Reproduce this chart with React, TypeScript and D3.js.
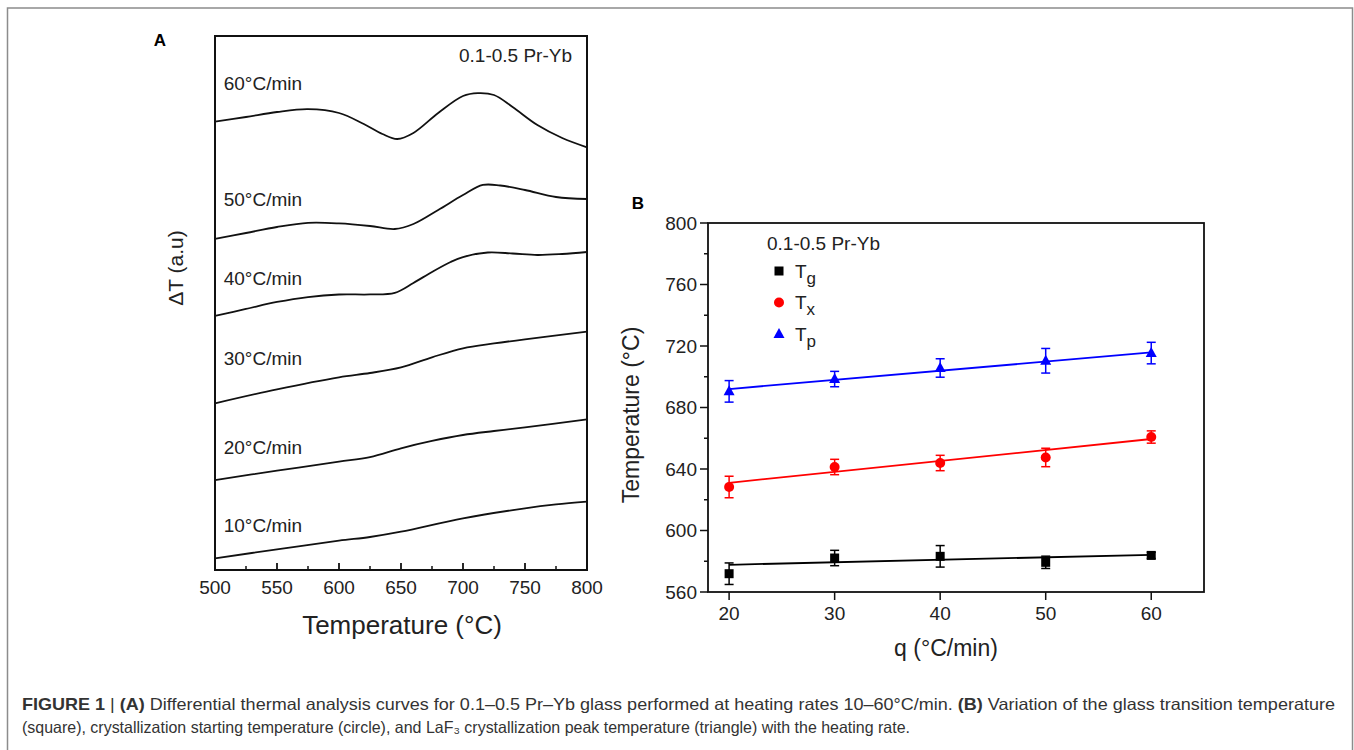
import React from "react";
import * as d3 from "d3";

// ---- panel A: DTA curves (temperature in °C, ΔT in arbitrary units) ----
const rates = ["10°C/min", "20°C/min", "30°C/min", "40°C/min", "50°C/min", "60°C/min"];
const labelDT = [8.4, 23.0, 39.7, 54.7, 69.5, 91.2];

const temps10 = [500, 550, 600, 625, 650, 700, 750, 775, 800];
const dt10 = [2.19, 3.86, 5.49, 6.18, 7.17, 9.68, 11.55, 12.27, 12.79];
const temps20 = [500, 550, 600, 625, 650, 675, 700, 725, 750, 800];
const dt20 = [16.85, 18.6, 20.28, 21.16, 22.79, 24.16, 25.28, 26.03, 26.72, 28.22];
const temps30 = [500, 550, 600, 625, 650, 675, 700, 725, 750, 800];
const dt30 = [31.22, 33.84, 36.09, 36.89, 37.96, 39.83, 41.52, 42.42, 43.2, 44.63];
const temps40 = [500, 525, 550, 575, 600, 625, 645, 660, 675, 690, 700, 720, 740, 760, 780, 800];
const dt40 = [47.57, 48.88, 50.19, 51.12, 51.59, 51.6, 51.9, 53.75, 55.81, 57.68, 58.61, 59.46, 59.27, 58.99, 59.18, 59.55];
const temps50 = [500, 525, 550, 575, 600, 625, 645, 660, 680, 700, 716, 730, 750, 775, 800];
const dt50 = [61.99, 63.11, 64.23, 65.0, 64.9, 64.42, 63.86, 64.79, 67.42, 70.22, 72.1, 72.0, 71.16, 69.85, 69.48];
const temps60 = [500, 525, 550, 575, 600, 620, 635, 647, 660, 680, 700, 712, 725, 740, 760, 780, 800];
const dt60 = [83.95, 84.83, 85.77, 86.3, 85.58, 83.52, 81.65, 80.71, 81.84, 85.58, 88.76, 89.3, 88.95, 86.7, 83.33, 80.9, 79.16];

const tempTicks = [500, 550, 600, 650, 700, 750, 800];

// ---- panel B: characteristic temperatures vs heating rate ----
const q = [20, 30, 40, 50, 60];
const tg = [571.9, 582.1, 583.2, 579.3, 583.8];
const tgErr = [7, 5, 7, 4, 2];
const tx = [628.3, 641.3, 643.9, 647.5, 660.8];
const txErr = [7, 5, 5, 6, 4];
const tp = [690.5, 698.5, 705.7, 710.4, 715.4];
const tpErr = [7, 5, 6, 8, 7];
// linear fit end points (at q = 20 and q = 60)
const tgFit = [577.7, 584.2];
const txFit = [631, 659.5];
const tpFit = [692, 715.8];

const qTicks = [20, 30, 40, 50, 60];
const tTicks = [560, 600, 640, 680, 720, 760, 800];

const font = "'Liberation Sans', Arial, Helvetica, sans-serif";

const App = () => {
  // panel A
  const xA = d3.scaleLinear().domain([500, 800]).range([215, 587]);
  const yA = d3.scaleLinear().domain([0, 100]).range([570, 36]);
  const lineA = d3
    .line<[number, number]>()
    .x((d) => xA(d[0]))
    .y((d) => yA(d[1]))
    .curve(d3.curveCatmullRom.alpha(0.5));
  const curves = [
    [temps10, dt10],
    [temps20, dt20],
    [temps30, dt30],
    [temps40, dt40],
    [temps50, dt50],
    [temps60, dt60],
  ].map(([t, v]) => t.map((d, i) => [d, v[i]] as [number, number]));
  const minorA = d3.range(525, 800, 50);

  // panel B
  const xB = d3.scaleLinear().domain([18, 65]).range([708, 1204]);
  const yB = d3.scaleLinear().domain([560, 800]).range([592, 223]);
  const minorB = d3.range(580, 800, 40);

  const series = [
    { vals: tg, err: tgErr, fit: tgFit, color: "#000000", shape: "square" },
    { vals: tx, err: txErr, fit: txFit, color: "#ff0000", shape: "circle" },
    { vals: tp, err: tpErr, fit: tpFit, color: "#0000ff", shape: "triangle" },
  ];

  const marker = (shape: string, cx: number, cy: number, color: string, key?: any) => {
    if (shape === "square")
      return <rect key={key} x={cx - 4.5} y={cy - 4.5} width={9} height={9} fill={color} />;
    if (shape === "circle") return <circle key={key} cx={cx} cy={cy} r={5} fill={color} />;
    return (
      <path
        key={key}
        d={`M${cx},${cy - 6}L${cx + 5.5},${cy + 4}L${cx - 5.5},${cy + 4}Z`}
        fill={color}
      />
    );
  };

  const legend = [
    { shape: "square", color: "#000000", sub: "g" },
    { shape: "circle", color: "#ff0000", sub: "x" },
    { shape: "triangle", color: "#0000ff", sub: "p" },
  ];

  return (
    <svg
      width={1354}
      height={750}
      style={{ position: "absolute", left: 0, top: 0, background: "#fff" }}
      fontFamily={font}
    >
      {/* figure frame */}
      <rect x={7.5} y={8} width={1345} height={760} fill="none" stroke="#8c8c8c" strokeWidth={1.5} />

      {/* ---------- panel A ---------- */}
      <text x={160} y={46} fontSize={17} fontWeight="bold" textAnchor="middle">A</text>
      <g>
        {curves.map((c, i) => (
          <path key={i} d={lineA(c) || ""} fill="none" stroke="#111" strokeWidth={1.8} />
        ))}
        {rates.map((r, i) => (
          <text key={r} x={xA(507)} y={yA(labelDT[i])} dy="0.35em" fontSize={19} fill="#222">
            {r}
          </text>
        ))}
        <text x={572} y={55} dy="0.35em" fontSize={19} textAnchor="end" fill="#222">
          0.1-0.5 Pr-Yb
        </text>
        <rect x={215} y={36} width={372} height={534} fill="none" stroke="#111" strokeWidth={2} />
        {tempTicks.map((t) => (
          <g key={t}>
            <line x1={xA(t)} x2={xA(t)} y1={570} y2={563} stroke="#111" strokeWidth={1.8} />
            <text x={xA(t)} y={587} dy="0.35em" fontSize={19} textAnchor="middle" fill="#222">
              {t}
            </text>
          </g>
        ))}
        {minorA.map((t) => (
          <line key={t} x1={xA(t)} x2={xA(t)} y1={570} y2={566} stroke="#111" strokeWidth={1.5} />
        ))}
        <text x={402} y={625} dy="0.35em" fontSize={26} textAnchor="middle" fill="#222">
          Temperature (°C)
        </text>
        <text
          transform="translate(176,268) rotate(-90)"
          dy="0.35em"
          fontSize={21}
          textAnchor="middle"
          fill="#222"
        >
          ΔT (a.u)
        </text>
      </g>

      {/* ---------- panel B ---------- */}
      <text x={638} y={209} fontSize={17} fontWeight="bold" textAnchor="middle">B</text>
      <g>
        {series.map((s, si) => (
          <g key={si}>
            <line
              x1={xB(20)}
              x2={xB(60)}
              y1={yB(s.fit[0])}
              y2={yB(s.fit[1])}
              stroke={s.color}
              strokeWidth={1.8}
            />
            {s.vals.map((v, i) => (
              <g key={i} stroke={s.color} strokeWidth={1.5}>
                <line x1={xB(q[i])} x2={xB(q[i])} y1={yB(v - s.err[i])} y2={yB(v + s.err[i])} />
                <line x1={xB(q[i]) - 4.5} x2={xB(q[i]) + 4.5} y1={yB(v - s.err[i])} y2={yB(v - s.err[i])} />
                <line x1={xB(q[i]) - 4.5} x2={xB(q[i]) + 4.5} y1={yB(v + s.err[i])} y2={yB(v + s.err[i])} />
              </g>
            ))}
            {s.vals.map((v, i) => marker(s.shape, xB(q[i]), yB(v), s.color, "m" + i))}
          </g>
        ))}
        <rect x={708} y={223} width={496} height={369} fill="none" stroke="#111" strokeWidth={1.8} />
        {tTicks.map((t) => (
          <g key={t}>
            <line x1={708} x2={700} y1={yB(t)} y2={yB(t)} stroke="#111" strokeWidth={1.5} />
            <text x={697} y={yB(t)} dy="0.35em" fontSize={19} textAnchor="end" fill="#222">
              {t}
            </text>
          </g>
        ))}
        {minorB.map((t) => (
          <line key={t} x1={708} x2={704} y1={yB(t)} y2={yB(t)} stroke="#111" strokeWidth={1.5} />
        ))}
        {qTicks.map((t) => (
          <g key={t}>
            <line x1={xB(t)} x2={xB(t)} y1={592} y2={600} stroke="#111" strokeWidth={1.5} />
            <text x={xB(t)} y={613} dy="0.35em" fontSize={19} textAnchor="middle" fill="#222">
              {t}
            </text>
          </g>
        ))}
        <text x={946} y={648} dy="0.35em" fontSize={23} textAnchor="middle" fill="#222">
          q (°C/min)
        </text>
        <text
          transform="translate(631,415) rotate(-90)"
          dy="0.35em"
          fontSize={23}
          textAnchor="middle"
          fill="#222"
        >
          Temperature (°C)
        </text>
        <text x={767} y={243} dy="0.35em" fontSize={19} fill="#222">
          0.1-0.5 Pr-Yb
        </text>
        {legend.map((l, i) => (
          <g key={l.sub}>
            {marker(l.shape, 779, 271 + i * 31.5, l.color)}
            <text x={795} y={271 + i * 31.5} dy="0.35em" fontSize={19} fill="#222">
              T
              <tspan dy="0.35em" fontSize={17}>{l.sub}</tspan>
            </text>
          </g>
        ))}
      </g>

      {/* ---------- caption ---------- */}
      <text x={22} y={704} dy="0.35em" fontSize={16.5} fill="#333" textLength={1313} lengthAdjust="spacingAndGlyphs">
        <tspan fontWeight="bold">FIGURE 1</tspan> | <tspan fontWeight="bold">(A)</tspan> Differential
        thermal analysis curves for 0.1–0.5 Pr–Yb glass performed at heating rates 10–60°C/min.{" "}
        <tspan fontWeight="bold">(B)</tspan> Variation of the glass transition temperature
      </text>
      <text x={22} y={727} dy="0.35em" fontSize={16.5} fill="#333" textLength={888} lengthAdjust="spacingAndGlyphs">
        (square), crystallization starting temperature (circle), and LaF₃ crystallization peak temperature
        (triangle) with the heating rate.
      </text>
    </svg>
  );
};

export default App;
